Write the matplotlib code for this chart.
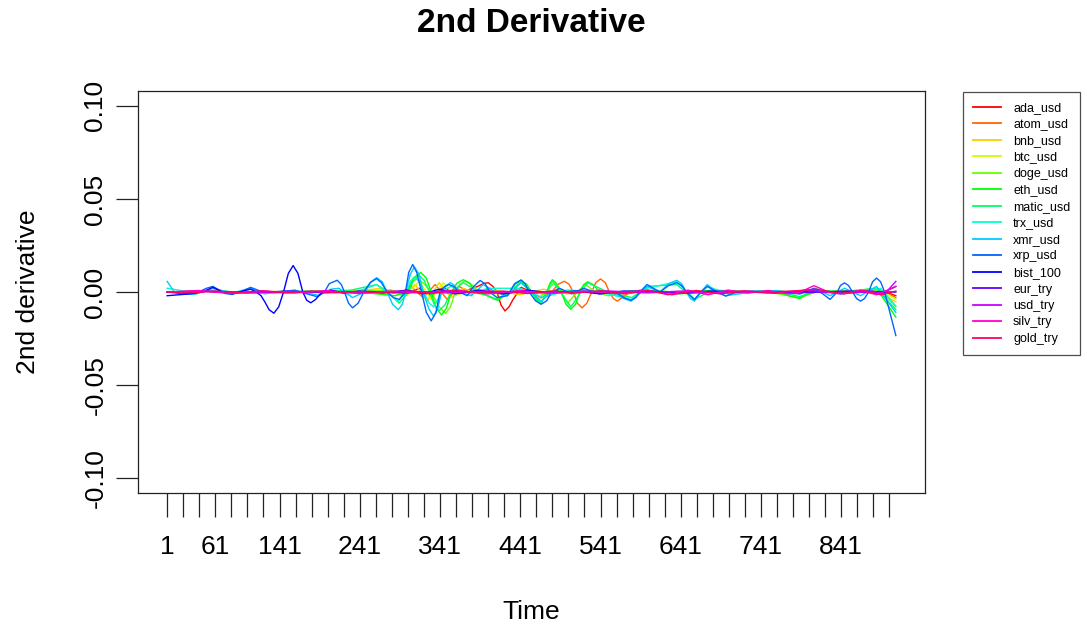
import matplotlib
matplotlib.use("Agg")
import matplotlib.pyplot as plt

plt.rcParams['font.family'] = ['Liberation Sans', 'DejaVu Sans']

series_names = ["ada_usd", "atom_usd", "bnb_usd", "btc_usd", "doge_usd", "eth_usd",
                "matic_usd", "trx_usd", "xmr_usd", "xrp_usd", "bist_100", "eur_try",
                "usd_try", "silv_try", "gold_try"]
series_colors = ["#FF0000", "#FF6600", "#FFCC00", "#CCFF00", "#66FF00", "#00FF00",
                 "#00FF66", "#00FFCC", "#00CCFF", "#0066FF", "#0000FF", "#6600FF",
                 "#CC00FF", "#FF00CC", "#FF0066"]

# (time index, 2nd derivative) readings per series
ada_usd = [(1, 0.0), (40, 0.0005), (80, -0.0005), (120, 0.0005), (160, -0.0003), (200, 0.0005),
           (240, -0.0005), (280, 0.0008), (300, -0.001), (315, 0.002), (330, -0.002), (345, 0.0025),
           (360, -0.001), (375, 0.001), (388, 0.003), (395, 0.0045), (401, 0.005), (407, 0.003),
           (412, 0.0), (417, -0.007), (422, -0.0102), (427, -0.008), (432, -0.004), (442, 0.0025),
           (455, 0.0), (470, -0.001), (490, 0.001), (510, -0.0005), (540, 0.001), (570, -0.001),
           (600, 0.0005), (640, -0.0005), (680, 0.0008), (720, -0.0005), (760, 0.0005), (800, 0.0),
           (840, 0.0005), (870, 0.0), (890, 0.001), (909, -0.002)]

atom_usd = [(1, 0.0), (50, 0.0005), (100, -0.0005), (150, 0.0005), (200, -0.0005), (250, 0.001),
            (290, -0.001), (305, 0.003), (320, -0.003), (335, 0.004), (350, -0.004), (365, 0.003),
            (380, -0.001), (400, 0.0015), (420, -0.0015), (440, 0.002), (455, 0.0), (467, -0.0032),
            (480, 0.0), (488, 0.0041), (496, 0.0058), (502, 0.0041), (507, 0.0), (512, -0.006),
            (518, -0.0085), (524, -0.006), (530, 0.0), (535, 0.005), (541, 0.007), (547, 0.005),
            (552, 0.0), (557, -0.0035), (562, -0.0049), (568, -0.003), (575, -0.001), (590, 0.001),
            (620, -0.0005), (660, 0.0005), (700, 0.0008), (740, 0.0), (780, -0.0005), (820, 0.0005),
            (860, -0.0005), (890, 0.001), (909, -0.003)]

bnb_usd = [(1, 0.0), (60, 0.0005), (120, -0.0005), (180, 0.0005), (240, 0.0008), (270, 0.002),
           (295, -0.002), (310, 0.004), (325, -0.005), (340, 0.005), (355, -0.003), (370, 0.002),
           (390, -0.001), (410, 0.001), (440, -0.0015), (470, 0.0015), (500, -0.001), (530, 0.001),
           (560, -0.0008), (600, 0.0005), (640, -0.0005), (680, 0.0008), (720, 0.0005), (760, -0.0005),
           (800, 0.0005), (840, 0.0), (880, 0.001), (909, -0.0053)]

btc_usd = [(1, 0.0), (60, 0.0005), (120, -0.0005), (180, 0.0), (240, 0.0005), (280, 0.001),
           (300, -0.002), (315, 0.006), (330, -0.004), (345, 0.005), (360, -0.002), (380, 0.001),
           (410, -0.001), (440, 0.001), (470, -0.001), (500, 0.001), (540, -0.0005), (580, 0.0005),
           (620, -0.0005), (660, 0.0005), (700, 0.0), (740, 0.0005), (780, -0.0005), (820, 0.0005),
           (860, 0.0), (890, 0.001), (909, -0.004)]

doge_usd = [(1, 0.0), (60, 0.0005), (120, -0.0005), (180, 0.0), (240, 0.0005), (280, 0.001),
            (298, -0.002), (305, 0.005), (312, 0.007), (320, 0.005), (330, 0.0), (340, -0.008),
            (348, -0.0115), (354, -0.008), (360, 0.0), (366, 0.0042), (372, 0.006), (380, 0.0042),
            (390, 0.0), (410, -0.004), (428, 0.0), (442, 0.005), (455, 0.0), (462, -0.004),
            (474, 0.0), (483, 0.005), (492, 0.0), (500, -0.006), (512, 0.0), (522, 0.004),
            (535, 0.0), (550, -0.002), (580, 0.0), (610, 0.001), (650, -0.001), (700, 0.0005),
            (750, 0.0), (789, -0.003), (810, 0.0), (850, 0.0005), (890, 0.001), (909, -0.008)]

eth_usd = [(1, 0.0), (60, 0.0005), (120, -0.0005), (180, 0.0005), (240, 0.0), (285, -0.002),
           (300, 0.0), (308, 0.0075), (317, 0.0105), (324, 0.0075), (330, 0.0), (336, -0.0087),
           (343, -0.0123), (349, -0.0087), (355, 0.0), (362, 0.0047), (370, 0.0066), (378, 0.0047),
           (385, 0.0), (400, -0.002), (413, -0.0045), (428, 0.0), (435, 0.0042), (442, 0.006),
           (449, 0.0042), (455, 0.0), (461, -0.0042), (467, -0.006), (474, 0.0), (478, 0.0047),
           (481, 0.0066), (486, 0.0047), (492, 0.0), (498, -0.0066), (504, -0.0093), (510, -0.0066),
           (515, 0.0), (520, 0.0039), (525, 0.0055), (532, 0.0039), (540, 0.0), (560, -0.001),
           (600, 0.001), (640, -0.001), (680, 0.001), (720, 0.0), (760, 0.0005), (775, -0.002),
           (789, -0.0035), (800, -0.001), (810, 0.0), (850, 0.0005), (885, 0.002), (909, -0.0135)]

matic_usd = [(1, 0.0), (60, 0.0005), (120, -0.0005), (180, 0.0), (230, 0.001), (262, 0.004),
             (276, 0.0), (290, -0.006), (302, 0.0), (308, 0.0064), (315, 0.009), (321, 0.0064),
             (328, 0.0), (334, -0.007), (340, -0.01), (347, -0.007), (355, 0.0), (370, 0.005),
             (390, 0.0), (412, -0.004), (428, 0.0), (442, 0.0055), (455, 0.0), (467, -0.006),
             (481, 0.006), (504, -0.008), (525, 0.005), (550, 0.0), (580, -0.003), (600, 0.003),
             (636, 0.004), (658, -0.004), (680, 0.001), (720, 0.0), (760, 0.0005), (789, -0.0025),
             (810, 0.001), (850, 0.0), (885, 0.002), (909, -0.0095)]

trx_usd = [(1, 0.002), (30, 0.0), (60, 0.001), (90, -0.0005), (120, 0.0), (160, 0.0005),
           (200, 0.0), (230, -0.001), (262, 0.004), (289, -0.005), (299, 0.0), (304, 0.0057),
           (309, 0.008), (315, 0.0057), (321, 0.0), (327, -0.0057), (333, -0.008), (343, 0.0),
           (354, 0.003), (380, -0.001), (400, 0.002), (440, 0.002), (470, -0.003), (500, 0.001),
           (540, 0.0), (579, -0.004), (599, 0.002), (636, 0.0055), (658, -0.004), (674, 0.003),
           (700, -0.001), (740, 0.0005), (780, -0.001), (810, 0.001), (840, -0.001), (870, 0.0005),
           (890, 0.002), (909, -0.0075)]

xmr_usd = [(1, 0.0057), (10, 0.0), (22, -0.0012), (36, -0.0012), (58, 0.002), (82, -0.0005),
           (105, 0.002), (122, -0.001), (145, 0.0005), (170, 0.0), (190, -0.0018), (205, 0.0015),
           (215, 0.002), (232, -0.003), (247, 0.0), (255, 0.0055), (262, 0.0077), (269, 0.0055),
           (275, 0.0), (282, -0.0067), (289, -0.0095), (294, -0.0067), (298, 0.0), (304, 0.0095),
           (309, 0.0135), (315, 0.0095), (320, 0.0), (327, -0.009), (333, -0.013), (338, -0.009),
           (343, 0.0), (349, 0.0035), (354, 0.005), (359, 0.0035), (365, 0.0), (380, -0.002),
           (395, 0.004), (410, 0.0), (425, -0.002), (442, 0.005), (455, 0.0), (467, -0.005),
           (480, 0.0), (500, 0.0), (520, 0.001), (540, 0.0), (560, -0.001), (570, -0.0035),
           (579, -0.0049), (589, -0.001), (599, 0.003), (615, 0.0), (626, 0.0045), (636, 0.0063),
           (642, 0.0045), (648, 0.0), (653, -0.0035), (658, -0.0049), (666, 0.0), (674, 0.004),
           (686, 0.0), (697, -0.002), (730, 0.0), (760, 0.0008), (790, -0.001), (809, 0.002),
           (827, -0.002), (845, 0.002), (865, -0.002), (885, 0.003), (909, -0.011)]

xrp_usd = [(1, 0.0), (20, -0.001), (40, 0.0), (50, 0.002), (58, 0.003), (66, 0.001),
           (73, -0.0008), (82, -0.0013), (92, 0.0), (105, 0.0025), (120, 0.0), (140, 0.0),
           (160, 0.001), (175, -0.001), (188, -0.0025), (197, 0.0), (203, 0.0045), (213, 0.0063),
           (218, 0.004), (222, 0.0), (227, -0.006), (232, -0.0085), (239, -0.006), (246, 0.0),
           (254, 0.005), (262, 0.0072), (268, 0.005), (275, 0.0), (283, -0.003), (290, -0.004),
           (298, 0.0), (302, 0.0105), (307, 0.0148), (312, 0.0105), (318, 0.0), (324, -0.011),
           (330, -0.0155), (336, -0.011), (341, 0.0), (347, 0.003), (352, 0.004), (358, 0.003),
           (365, 0.0), (375, -0.002), (383, 0.003), (391, 0.0062), (397, 0.0045), (403, 0.0),
           (412, -0.003), (425, -0.002), (434, 0.0045), (442, 0.0065), (447, 0.0045), (452, 0.0),
           (460, -0.0047), (467, -0.0066), (474, -0.0047), (480, 0.0), (490, 0.002), (505, -0.001),
           (520, 0.002), (540, -0.001), (560, 0.0), (570, -0.003), (579, -0.0045), (585, -0.003),
           (590, 0.0), (599, 0.004), (607, 0.002), (615, 0.0), (626, 0.0035), (636, 0.005),
           (642, 0.0035), (648, 0.0), (658, -0.004), (666, 0.0), (674, 0.003), (686, 0.0),
           (697, -0.0022), (710, 0.0), (730, 0.0005), (760, 0.0), (789, -0.001), (807, 0.002),
           (818, -0.001), (827, -0.004), (836, 0.0), (840, 0.0035), (845, 0.0049), (850, 0.0035),
           (855, 0.0), (860, -0.0035), (865, -0.0049), (870, -0.0035), (875, 0.0), (880, 0.0055),
           (885, 0.0075), (890, 0.0055), (895, 0.0), (909, -0.0234)]

bist_100 = [(1, -0.002), (15, -0.0015), (30, -0.001), (45, 0.0), (58, 0.0025), (70, 0.0),
            (82, -0.001), (95, 0.0005), (105, 0.0015), (112, 0.0), (118, -0.002), (123, -0.0055),
            (128, -0.0095), (134, -0.0114), (140, -0.008), (146, 0.0), (152, 0.01), (158, 0.0142),
            (164, 0.01), (170, 0.0), (175, -0.0045), (180, -0.0058), (186, -0.004), (193, -0.0005),
            (205, 0.001), (220, -0.0005), (240, 0.0005), (270, -0.0005), (300, 0.001), (320, -0.001),
            (340, 0.0015), (360, -0.001), (390, 0.001), (420, -0.001), (450, 0.001), (480, -0.0005),
            (510, 0.0005), (540, -0.001), (570, 0.0005), (600, 0.0005), (640, -0.0005), (680, 0.0005),
            (720, 0.0), (760, -0.0005), (800, 0.0005), (840, 0.0), (870, 0.0005), (890, 0.0), (909, 0.0)]

eur_try = [(1, 0.0), (50, 0.0003), (100, -0.0003), (150, 0.0003), (200, -0.0003), (250, 0.0003),
           (300, -0.0005), (350, 0.0005), (400, -0.0003), (450, 0.0003), (500, -0.0003), (550, 0.0003),
           (600, 0.0), (650, -0.0005), (700, 0.0003), (750, 0.0), (800, -0.0003), (850, 0.0005),
           (880, -0.0005), (895, 0.0), (909, 0.003)]

usd_try = [(1, 0.0), (50, 0.0005), (100, -0.0005), (150, 0.0003), (200, 0.0), (250, -0.0003),
           (300, 0.0005), (350, -0.0005), (400, 0.0005), (450, -0.0005), (500, 0.0), (550, 0.0005),
           (600, -0.0005), (640, 0.0005), (680, -0.0005), (720, 0.0005), (760, -0.0003), (800, 0.001),
           (840, -0.001), (880, 0.0005), (895, -0.001), (909, 0.0057)]

silv_try = [(1, 0.0), (40, 0.0008), (80, -0.0008), (120, 0.0005), (160, -0.0005), (200, 0.0008),
            (240, -0.0008), (280, 0.0005), (320, -0.0005), (360, 0.001), (400, -0.001), (440, 0.0008),
            (480, -0.0008), (520, 0.0005), (560, -0.0008), (600, 0.001), (625, -0.0015), (650, 0.001),
            (675, -0.0015), (700, 0.001), (725, -0.0005), (750, 0.0008), (775, -0.001), (790, 0.0),
            (807, 0.0034), (825, 0.0), (845, -0.001), (865, 0.001), (885, -0.0015), (909, 0.003)]

gold_try = [(1, 0.0), (30, -0.0005), (60, 0.0005), (90, -0.0003), (120, 0.0005), (150, -0.0005),
            (180, 0.0005), (210, -0.0003), (240, 0.0003), (270, -0.0005), (300, 0.0005), (330, -0.0008),
            (360, 0.0008), (390, -0.0005), (420, 0.0005), (450, -0.0008), (480, 0.0005), (510, -0.0005),
            (540, 0.0005), (570, -0.0008), (600, 0.0008), (630, -0.0015), (660, 0.0008), (690, -0.001),
            (720, 0.0005), (750, -0.0005), (780, 0.0005), (810, 0.0015), (840, -0.0008), (870, 0.0008),
            (890, -0.0015), (909, 0.0005)]

series_data = [ada_usd, atom_usd, bnb_usd, btc_usd, doge_usd, eth_usd, matic_usd, trx_usd,
               xmr_usd, xrp_usd, bist_100, eur_try, usd_try, silv_try, gold_try]

n_obs = 909
x_ticks = list(range(1, 902, 20))
x_ticklabels_shown = ["1", "61", "141", "241", "341", "441", "541", "641", "741", "841"]
y_ticks = [-0.10, -0.05, 0.00, 0.05, 0.10]
y_ticklabels = ["-0.10", "-0.05", "0.00", "0.05", "0.10"]

W, H = 1092, 632
fig = plt.figure(figsize=(W / 100, H / 100), dpi=100)
L, R, T, B = 138, 925, 91, 493
ax = fig.add_axes([L / W, 1 - B / H, (R - L) / W, (B - T) / H])

for name, col, pts in zip(series_names, series_colors, series_data):
    tt = [p[0] for p in pts]
    vv = [p[1] for p in pts]
    ax.plot(tt, vv, color=col, lw=1.0, label=name, solid_joinstyle='round')

pad_x = (n_obs - 1) * 0.04
ax.set_xlim(1 - pad_x, n_obs + pad_x)
ax.set_ylim(-0.108, 0.108)

ax.set_xticks(x_ticks)
ax.set_xticklabels([str(v) if str(v) in x_ticklabels_shown else "" for v in x_ticks])
ax.set_yticks(y_ticks)
ax.set_yticklabels(y_ticklabels, rotation=90, va='center')

ax.tick_params(axis='x', length=17, width=0.9, color='#222222', labelsize=19, pad=13)
ax.tick_params(axis='y', length=16, width=0.9, color='#222222', labelsize=19, pad=6)
for s in ax.spines.values():
    s.set_linewidth(0.9)
    s.set_color('#222222')

ax.set_xlabel("Time", fontsize=19)
ax.xaxis.label.set_va('center')
ax.xaxis.set_label_coords(0.5, (H - 612 - (H - B)) / (B - T))
ax.set_ylabel("2nd derivative", fontsize=19)
ax.yaxis.label.set_va('center')
ax.yaxis.set_label_coords((28 - L) / (R - L), 0.5)

fig.text((L + R) / 2 / W, 1 - 23 / H, "2nd Derivative", fontsize=24, fontweight='bold',
         ha='center', va='center')

leg = ax.legend(loc='upper left', bbox_to_anchor=(963 / W, 1 - 92 / H),
                bbox_transform=fig.transFigure, fontsize=9, frameon=True, fancybox=False,
                handlelength=2.2, handletextpad=1.0, labelspacing=0.36, borderpad=0.8,
                borderaxespad=0.0)
leg.get_frame().set_edgecolor('#222222')
leg.get_frame().set_linewidth(0.9)
for line in leg.get_lines():
    line.set_linewidth(1.3)

fig.savefig("out.png", dpi=100)
